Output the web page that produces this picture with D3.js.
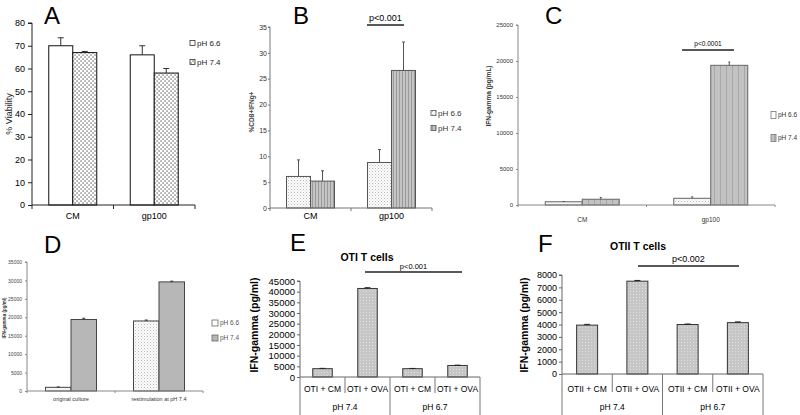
<!DOCTYPE html>
<html><head><meta charset="utf-8">
<script src="https://cdn.jsdelivr.net/npm/d3@7"></script>
<style>body{margin:0;background:#fff}svg{display:block;font-family:"Liberation Sans",Arial,sans-serif}</style>
</head><body><svg id="c" width="800" height="415"></svg>
<script>
// ---------- DATA ----------
const aCategories = ["CM", "gp100"];
const aSeries = ["pH 6.6", "pH 7.4"];
const aPH66 = [70, 66], aPH74 = [67, 58];
const aErr66 = [3.5, 4], aErr74 = [0.5, 2];
const aTicks = [0, 10, 20, 30, 40, 50, 60, 70, 80];

const bCategories = ["CM", "gp100"];
const bSeries = ["pH 6.6", "pH 7.4"];
const bPH66 = [6.1, 8.8], bPH74 = [5.2, 26.6];
const bErr66 = [3.2, 2.5], bErr74 = [2.0, 5.5];
const bTicks = [0, 5, 10, 15, 20, 25, 30, 35];
const bPValue = "p<0.001";

const cCategories = ["CM", "gp100"];
const cSeries = ["pH 6.6", "pH 7.4"];
const cPH66 = [450, 930], cPH74 = [800, 19400];
const cErr66 = [40, 200], cErr74 = [250, 450];
const cTicks = [0, 5000, 10000, 15000, 20000, 25000];
const cPValue = "p<0.0001";

const dCategories = ["original culture", "restimulation at pH 7.4"];
const dSeries = ["pH 6.6", "pH 7.4"];
const dPH66 = [1000, 19000], dPH74 = [19400, 29600];
const dErr66 = [100, 250], dErr74 = [350, 200];
const dTicks = [0, 5000, 10000, 15000, 20000, 25000, 30000, 35000];

const eTitle = "OTI T cells";
const eCategories = ["OTI + CM", "OTI + OVA", "OTI + CM", "OTI + OVA"];
const eGroups = ["pH 7.4", "pH 6.7"];
const eValues = [3900, 41500, 3900, 5400];
const eErrors = [150, 350, 120, 150];
const eTicks = [0, 5000, 10000, 15000, 20000, 25000, 30000, 35000, 40000, 45000];
const ePValue = "p<0.001";

const fTitle = "OTII T cells";
const fCategories = ["OTII + CM", "OTII + OVA", "OTII + CM", "OTII + OVA"];
const fGroups = ["pH 7.4", "pH 6.7"];
const fValues = [3950, 7500, 4000, 4150];
const fErrors = [60, 60, 40, 60];
const fTicks = [0, 1000, 2000, 3000, 4000, 5000, 6000, 7000, 8000];
const fPValue = "p<0.002";

const yLabel = "IFN-gamma (pg/ml)";

// ---------- SETUP ----------
const svg = d3.select("#c");
svg.append("rect").attr("width", 800).attr("height", 415).attr("fill", "#fff");
const defs = svg.append("defs");

function pat(id, w, h, bg, build) {
  const p = defs.append("pattern").attr("id", id).attr("patternUnits", "userSpaceOnUse")
    .attr("width", w).attr("height", h);
  p.append("rect").attr("width", w).attr("height", h).attr("fill", bg);
  build(p);
}
pat("dotsBlack", 4, 4, "#fff", p => {
  p.append("rect").attr("x", 0.5).attr("y", 0.5).attr("width", 1.1).attr("height", 1.1).attr("fill", "#222");
  p.append("rect").attr("x", 2.5).attr("y", 2.5).attr("width", 1.1).attr("height", 1.1).attr("fill", "#222");
});
pat("dotsLight", 3, 3, "#fdfdfd", p => {
  p.append("rect").attr("x", 0).attr("y", 0).attr("width", 1).attr("height", 1).attr("fill", "#b8b8b8");
  p.append("rect").attr("x", 1.5).attr("y", 1.5).attr("width", 1).attr("height", 1).attr("fill", "#cfcfcf");
});
pat("stripesFine", 3, 4, "#c4c4c4", p => {
  p.append("rect").attr("x", 0).attr("y", 0).attr("width", 1).attr("height", 4).attr("fill", "#9a9a9a");
});
pat("stripesWide", 6, 4, "#c2c2c2", p => {
  p.append("rect").attr("x", 0).attr("y", 0).attr("width", 1).attr("height", 4).attr("fill", "#a8a8a8");
});
pat("greyTex", 3, 3, "#c6c6c6", p => {
  p.append("rect").attr("x", 0).attr("y", 0).attr("width", 1).attr("height", 1).attr("fill", "#dedede");
});

// ---------- GENERIC PANEL ----------
function panel(o) {
  const g = svg.append("g");
  const y = d3.scaleLinear().domain([0, o.yMax]).range([o.y0, o.y1]);
  const x0 = d3.scaleBand().domain(d3.range(o.categories.length)).range([o.xl, o.xr]);
  const n = o.series.length;
  const x1 = d3.scaleBand().domain(d3.range(n)).range([0, o.barW * n]);
  const off = (x0.bandwidth() - o.barW * n) / 2;

  o.series.forEach((s, si) => {
    s.vals.forEach((v, i) => {
      const bx = x0(i) + off + x1(si);
      g.append("rect").attr("x", bx).attr("y", y(v)).attr("width", x1.bandwidth())
        .attr("height", y(0) - y(v)).attr("fill", s.fill)
        .attr("stroke", o.barStroke).attr("stroke-width", o.barSW || 1);
      const cx = bx + x1.bandwidth() / 2, ye = y(v + s.errs[i]);
      g.append("line").attr("x1", cx).attr("x2", cx).attr("y1", y(v)).attr("y2", ye)
        .attr("stroke", o.errColor || "#333").attr("stroke-width", 1);
      g.append("line").attr("x1", cx - o.capW).attr("x2", cx + o.capW).attr("y1", ye).attr("y2", ye)
        .attr("stroke", o.errColor || "#333").attr("stroke-width", 1);
    });
  });

  const ax = g.append("g").attr("transform", `translate(${o.xl},0)`)
    .call(d3.axisLeft(y).tickValues(o.ticks).tickSize(o.tickLen).tickPadding(o.tickPad).tickFormat(d3.format("d")));
  ax.selectAll("path,line").attr("stroke", o.axisColor);
  ax.select(".domain").attr("d", `M${-o.tickLen},${o.y1}H0V${o.y0}`);
  ax.selectAll("text").attr("font-size", o.tickFont).attr("fill", o.tickColor || "#000")
    .attr("font-family", "Liberation Sans, Arial, sans-serif");

  g.append("line").attr("x1", o.xl).attr("x2", o.xr).attr("y1", y(0)).attr("y2", y(0))
    .attr("stroke", o.axisColor).attr("stroke-width", 1);
  return { g, y, x0 };
}

function simpleXAxis(p, o) {
  const { g, y, x0 } = p;
  const bounds = o.categories.map((c, i) => x0(i)).concat([o.xr]);
  bounds.forEach(b => g.append("line").attr("x1", b).attr("x2", b).attr("y1", y(0)).attr("y2", y(0) + o.xTickLen)
    .attr("stroke", o.axisColor));
  o.categories.forEach((c, i) => g.append("text").attr("x", x0(i) + x0.bandwidth() / 2).attr("y", o.catY)
    .attr("text-anchor", "middle").attr("font-size", o.catFont).attr("fill", o.catColor || "#000").text(c));
}

function multiXAxis(p, o) {
  const { g, y, x0 } = p;
  const per = o.categories.length / o.groups.length;
  o.categories.forEach((c, i) => {
    const b = x0(i);
    const outer = i % per === 0;
    g.append("line").attr("x1", b).attr("x2", b).attr("y1", y(0)).attr("y2", outer ? 415 : o.innerBottom)
      .attr("stroke", "#777");
    g.append("text").attr("x", b + x0.bandwidth() / 2).attr("y", o.catY).attr("text-anchor", "middle")
      .attr("font-size", o.catFont).text(c);
  });
  g.append("line").attr("x1", o.xr).attr("x2", o.xr).attr("y1", y(0)).attr("y2", 415).attr("stroke", "#777");
  o.groups.forEach((gr, gi) => {
    const gx = (x0(gi * per) + x0(gi * per + per - 1) + x0.bandwidth()) / 2;
    g.append("text").attr("x", gx).attr("y", o.groupY).attr("text-anchor", "middle")
      .attr("font-size", o.catFont).text(gr);
  });
}

function legend(x, ys, labels, fills, size, font, color, stroke) {
  labels.forEach((l, i) => {
    svg.append("rect").attr("x", x).attr("y", ys[i] - size.h / 2).attr("width", size.w).attr("height", size.h)
      .attr("fill", fills[i]).attr("stroke", stroke).attr("stroke-width", 0.8);
    svg.append("text").attr("x", x + size.w + 2).attr("y", ys[i]).attr("dy", "0.35em")
      .attr("font-size", font).attr("fill", color).text(l);
  });
}
function letter(t, x, y) {
  svg.append("text").attr("x", x).attr("y", y).attr("font-size", 24).attr("fill", "#000").text(t);
}
function vlabel(t, x, y, size, weight, color) {
  svg.append("text").attr("transform", `translate(${x},${y}) rotate(-90)`).attr("text-anchor", "middle")
    .attr("font-size", size).attr("font-weight", weight).attr("fill", color || "#000").text(t);
}
function pbar(t, x1, x2, yl, ty, font, sw) {
  svg.append("line").attr("x1", x1).attr("x2", x2).attr("y1", yl).attr("y2", yl).attr("stroke", "#222").attr("stroke-width", sw);
  svg.append("text").attr("x", (x1 + x2) / 2).attr("y", ty).attr("text-anchor", "middle").attr("font-size", font).text(t);
}

// ---------- PANEL A ----------
const oA = { categories: aCategories, yMax: 80, y0: 205, y1: 23, xl: 32, xr: 195, barW: 24, capW: 3,
  series: [{ vals: aPH66, errs: aErr66, fill: "#fff" }, { vals: aPH74, errs: aErr74, fill: "url(#dotsBlack)" }],
  barStroke: "#111", ticks: aTicks, tickLen: 4, tickPad: 3, tickFont: 9, axisColor: "#222",
  xTickLen: 4, catY: 219, catFont: 9 };
simpleXAxis(panel(oA), oA);
legend(190, [43, 62], aSeries, ["#fff", "url(#dotsBlack)"], { w: 5, h: 5 }, 8, "#222", "#333");
letter("A", 44, 24);
vlabel("% Viability", 12, 114, 9, "normal", "#222");

// ---------- PANEL B ----------
const oB = { categories: bCategories, yMax: 35, y0: 208, y1: 27, xl: 270, xr: 432, barW: 24, capW: 1.5,
  series: [{ vals: bPH66, errs: bErr66, fill: "url(#dotsLight)" }, { vals: bPH74, errs: bErr74, fill: "url(#stripesFine)" }],
  barStroke: "#555", errColor: "#555", ticks: bTicks, tickLen: 2, tickPad: 1, tickFont: 7, tickColor: "#333", axisColor: "#777",
  xTickLen: 3, catY: 219, catFont: 9 };
simpleXAxis(panel(oB), oB);
legend(431, [113, 128], bSeries, ["url(#dotsLight)", "url(#stripesFine)"], { w: 5, h: 5 }, 8, "#333", "#555");
letter("B", 293, 24);
vlabel("%CD8+IFNg+", 254, 112, 6.5, "bold", "#444");
pbar(bPValue, 367, 404, 25, 21, 9, 1.6);

// ---------- PANEL C ----------
const oC = { categories: cCategories, yMax: 25000, y0: 205, y1: 25, xl: 518, xr: 775, barW: 37, capW: 1,
  series: [{ vals: cPH66, errs: cErr66, fill: "url(#dotsLight)" }, { vals: cPH74, errs: cErr74, fill: "url(#stripesWide)" }],
  barStroke: "#666", errColor: "#555", ticks: cTicks, tickLen: 2, tickPad: 3, tickFont: 6, tickColor: "#333", axisColor: "#888",
  xTickLen: 2, catY: 222, catFont: 6.5, catColor: "#333" };
simpleXAxis(panel(oC), oC);
legend(771, [115, 138], cSeries, ["#fff", "url(#stripesWide)"], { w: 5, h: 7 }, 6.5, "#333", "#777");
letter("C", 545, 24);
vlabel("IFN-gamma (pg/mL)", 491, 96, 6.5, "bold", "#333");
pbar(cPValue, 682, 734, 50, 46, 6.5, 1.5);

// ---------- PANEL D ----------
const oD = { categories: dCategories, yMax: 35000, y0: 391, y1: 262, xl: 27, xr: 203, barW: 25.5, capW: 1.5,
  series: [{ vals: dPH66, errs: dErr66, fill: "url(#dotsLight)" }, { vals: dPH74, errs: dErr74, fill: "#b7b7b7" }],
  barStroke: "#444", errColor: "#333", ticks: dTicks, tickLen: 2, tickPad: 3, tickFont: 5, tickColor: "#444", axisColor: "#888",
  xTickLen: 2, catY: 401, catFont: 5.5, catColor: "#333" };
simpleXAxis(panel(oD), oD);
legend(212, [323, 338], dSeries, ["#fff", "#b7b7b7"], { w: 6, h: 6 }, 6.5, "#555", "#666");
letter("D", 44, 253);
vlabel("IFN-gamma (pg/ml)", 6, 318, 4.5, "bold", "#333");

// ---------- PANEL E ----------
const oE = { categories: eCategories, yMax: 45000, y0: 377, y1: 281, xl: 300, xr: 480, barW: 19.5, capW: 3,
  series: [{ vals: eValues, errs: eErrors, fill: "url(#greyTex)" }],
  barStroke: "#333", errColor: "#222", ticks: eTicks, tickLen: 3, tickPad: 2, tickFont: 9.5, axisColor: "#666" };
const pE = panel(oE);
multiXAxis(pE, { categories: eCategories, groups: eGroups, xr: 480, innerBottom: 393, catY: 392, groupY: 410, catFont: 8.5 });
svg.append("text").attr("x", 367).attr("y", 261).attr("text-anchor", "middle").attr("font-size", 10.5).attr("font-weight", "bold").text(eTitle);
letter("E", 290, 251);
vlabel(yLabel, 258, 325, 10.5, "bold", "#000");
pbar(ePValue, 365, 462, 272, 269, 7.5, 1.5);

// ---------- PANEL F ----------
const oF = { categories: fCategories, yMax: 8000, y0: 374, y1: 275, xl: 562, xr: 763, barW: 21, capW: 3,
  series: [{ vals: fValues, errs: fErrors, fill: "url(#greyTex)" }],
  barStroke: "#333", errColor: "#222", ticks: fTicks, tickLen: 3, tickPad: 2, tickFont: 9, axisColor: "#666" };
const pF = panel(oF);
multiXAxis(pF, { categories: fCategories, groups: fGroups, xr: 763, innerBottom: 392, catY: 392, groupY: 410, catFont: 8.5 });
svg.append("text").attr("x", 638).attr("y", 250).attr("text-anchor", "middle").attr("font-size", 10.5).attr("font-weight", "bold").text(fTitle);
letter("F", 538, 252);
vlabel(yLabel, 528, 325, 10.5, "bold", "#000");
pbar(fPValue, 638, 739, 266, 262, 9, 1.5);
</script></body></html>
